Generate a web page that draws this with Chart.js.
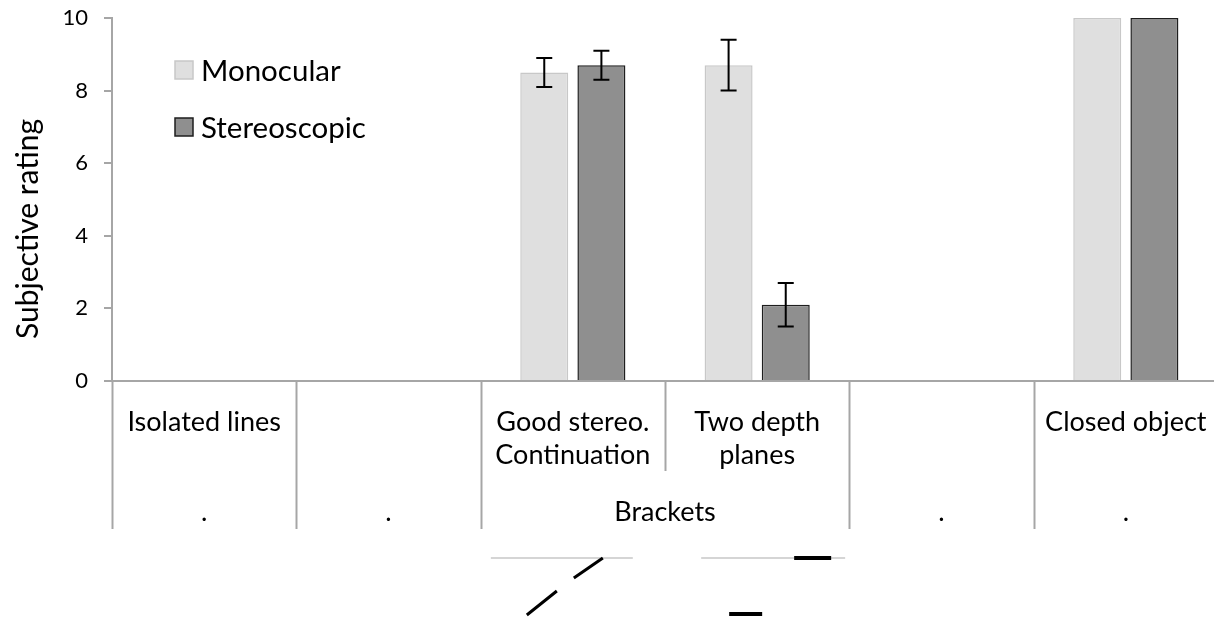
<!DOCTYPE html>
<html>
<head>
<meta charset="utf-8">
<script src="https://cdn.jsdelivr.net/npm/chart.js@4"></script>
<style>
  html, body { margin: 0; padding: 0; background: #fff; overflow: hidden; }
  #wrap { width: 1214px; height: 618px; overflow: hidden; }
</style>
</head>
<body>
<div id="wrap"><canvas id="myChart" width="1218" height="618"></canvas></div>
<script>
"use strict";

// condition labels (first row under the axis), one entry per line of text
const categoryLines = [
  ["Isolated lines"],
  [""],
  ["Good stereo.", "Continuation"],
  ["Two depth", "planes"],
  [""],
  ["Closed object"],
];
// second row: group labels and how many conditions each covers
const groupLabels = [".", ".", "Brackets", ".", "."];
const groupSpans = [1, 1, 2, 1, 1];

const seriesNames = ["Monocular", "Stereoscopic"];
const monocular = [null, null, 8.5, 8.7, null, 10];
const stereoscopic = [null, null, 8.7, 2.1, null, 10];
const monocularErr = [null, null, 0.4, 0.7, null, null];
const stereoscopicErr = [null, null, 0.4, 0.6, null, null];

const yTicks = [0, 2, 4, 6, 8, 10];
const yTitle = "Subjective rating";

const FONT = "Lato, 'Open Sans', sans-serif";
const AXIS_GREY = "#a6a6a6";

const errorBars = {
  id: "errorBars",
  afterDatasetsDraw(chart) {
    const { ctx } = chart;
    const y = chart.scales.y;
    chart.data.datasets.forEach((ds, i) => {
      const meta = chart.getDatasetMeta(i);
      meta.data.forEach((bar, j) => {
        const v = ds.data[j];
        const e = ds.errors[j];
        if (v == null || e == null) return;
        const top = y.getPixelForValue(v + e);
        const bot = y.getPixelForValue(v - e);
        ctx.save();
        ctx.strokeStyle = "#000";
        ctx.lineWidth = 2;
        ctx.beginPath();
        ctx.moveTo(bar.x, top);
        ctx.lineTo(bar.x, bot);
        ctx.moveTo(bar.x - 8, top);
        ctx.lineTo(bar.x + 8, top);
        ctx.moveTo(bar.x - 8, bot);
        ctx.lineTo(bar.x + 8, bot);
        ctx.stroke();
        ctx.restore();
      });
    });
  },
};

// legend inside the plot, top left, stacked
const insideLegend = {
  id: "insideLegend",
  afterDraw(chart) {
    const { ctx, chartArea } = chart;
    ctx.save();
    ctx.font = "29.5px " + FONT;
    ctx.textBaseline = "alphabetic";
    ctx.textAlign = "left";
    chart.data.datasets.forEach((ds, i) => {
      const x = chartArea.left + 63;
      const yMid = chartArea.top + 52 + i * 57;
      ctx.fillStyle = ds.backgroundColor;
      ctx.strokeStyle = ds.borderColor;
      ctx.lineWidth = 1.5;
      ctx.fillRect(x, yMid - 9, 18, 18);
      ctx.strokeRect(x, yMid - 9, 18, 18);
      ctx.fillStyle = "#000";
      ctx.fillText(ds.label, x + 26, yMid + 11);
    });
    ctx.restore();
  },
};

// two-row category axis with separators, plus the small stimulus sketches
const categoryAxis = {
  id: "categoryAxis",
  afterDraw(chart) {
    const { ctx, chartArea } = chart;
    const x = chart.scales.x;
    const base = chartArea.bottom;
    const n = categoryLines.length;
    const colW = (chartArea.right - chartArea.left) / n;
    const edge = (k) => x.getPixelForValue(k) - colW / 2;

    ctx.save();
    ctx.strokeStyle = AXIS_GREY;
    ctx.lineWidth = 2;
    ctx.beginPath();
    ctx.moveTo(chartArea.left, base);
    ctx.lineTo(chartArea.right, base);
    ctx.stroke();

    // boundaries between groups run through both rows
    const groupStarts = new Set();
    let k = 0;
    groupSpans.forEach((s) => { groupStarts.add(k); k += s; });
    for (let c = 0; c < n; c++) {
      const px = Math.round(edge(c)) + 0.5;
      const deep = groupStarts.has(c);
      ctx.beginPath();
      ctx.moveTo(px, base);
      ctx.lineTo(px, deep ? base + 148 : base + 90);
      ctx.stroke();
    }

    ctx.fillStyle = "#000";
    ctx.font = "27px " + FONT;
    ctx.textAlign = "center";
    ctx.textBaseline = "alphabetic";
    categoryLines.forEach((lines, c) => {
      const cx = x.getPixelForValue(c);
      lines.forEach((t, li) => ctx.fillText(t, cx, base + 50 + li * 33));
    });

    k = 0;
    groupLabels.forEach((t, g) => {
      const span = groupSpans[g];
      const cx = (edge(k) + edge(k + span)) / 2;
      ctx.fillText(t, cx, base + 140);
      k += span;
    });

    // sketches under the bracket conditions
    const c3 = x.getPixelForValue(2);
    const c4 = x.getPixelForValue(3);
    const yLine = base + 177;
    ctx.strokeStyle = "#c8c8c8";
    ctx.lineWidth = 1.5;
    ctx.beginPath();
    ctx.moveTo(c3 - 82, yLine); ctx.lineTo(c3 + 60, yLine);
    ctx.moveTo(c4 - 56, yLine); ctx.lineTo(c4 + 88, yLine);
    ctx.stroke();

    ctx.strokeStyle = "#000";
    ctx.lineWidth = 3;
    ctx.beginPath();
    ctx.moveTo(c3 - 46, yLine + 57); ctx.lineTo(c3 - 16, yLine + 33);
    ctx.moveTo(c3 + 1, yLine + 20); ctx.lineTo(c3 + 30, yLine);
    ctx.stroke();

    ctx.lineWidth = 4;
    ctx.beginPath();
    ctx.moveTo(c4 + 37, yLine); ctx.lineTo(c4 + 74, yLine);
    ctx.moveTo(c4 - 28, yLine + 56); ctx.lineTo(c4 + 5, yLine + 56);
    ctx.stroke();

    // rotated axis title
    ctx.save();
    ctx.translate(28, 229);
    ctx.rotate(-Math.PI / 2);
    ctx.font = "30px " + FONT;
    ctx.textBaseline = "middle";
    ctx.textAlign = "center";
    ctx.fillStyle = "#000";
    ctx.fillText(yTitle, 0, 0);
    ctx.restore();

    ctx.restore();
  },
};

const ctx = document.getElementById("myChart").getContext("2d");
const myChart = new Chart(ctx, {
  type: "bar",
  data: {
    labels: categoryLines.map((l) => l.join(" ")),
    datasets: [
      {
        label: seriesNames[0],
        data: monocular,
        errors: monocularErr,
        backgroundColor: "#dfdfdf",
        borderColor: "#c8c8c8",
        borderWidth: 1.5,
      },
      {
        label: seriesNames[1],
        data: stereoscopic,
        errors: stereoscopicErr,
        backgroundColor: "#8f8f8f",
        borderColor: "#1e1e1e",
        borderWidth: 1.5,
      },
    ],
  },
  options: {
    responsive: false,
    animation: false,
    categoryPercentage: 0.62,
    barPercentage: 0.84,
    layout: { padding: { top: 18, bottom: 237, right: 0, left: 0 } },
    plugins: {
      legend: { display: false },
      tooltip: { enabled: false },
    },
    scales: {
      x: { display: false },
      y: {
        min: 0,
        max: 10,
        afterFit(scale) {
          scale.width = 112;
          scale.paddingTop = 0;
          scale.paddingBottom = 0;
        },
        afterBuildTicks(scale) { scale.ticks = yTicks.map((v) => ({ value: v })); },
        border: { color: AXIS_GREY, width: 2 },
        grid: { drawOnChartArea: false, color: AXIS_GREY, lineWidth: 2, tickLength: 8 },
        ticks: {
          padding: 16,
          color: "#000",
          font: { family: FONT, size: 22 },
        },
      },
    },
  },
  plugins: [errorBars, insideLegend, categoryAxis],
});
</script>
</body>
</html>
